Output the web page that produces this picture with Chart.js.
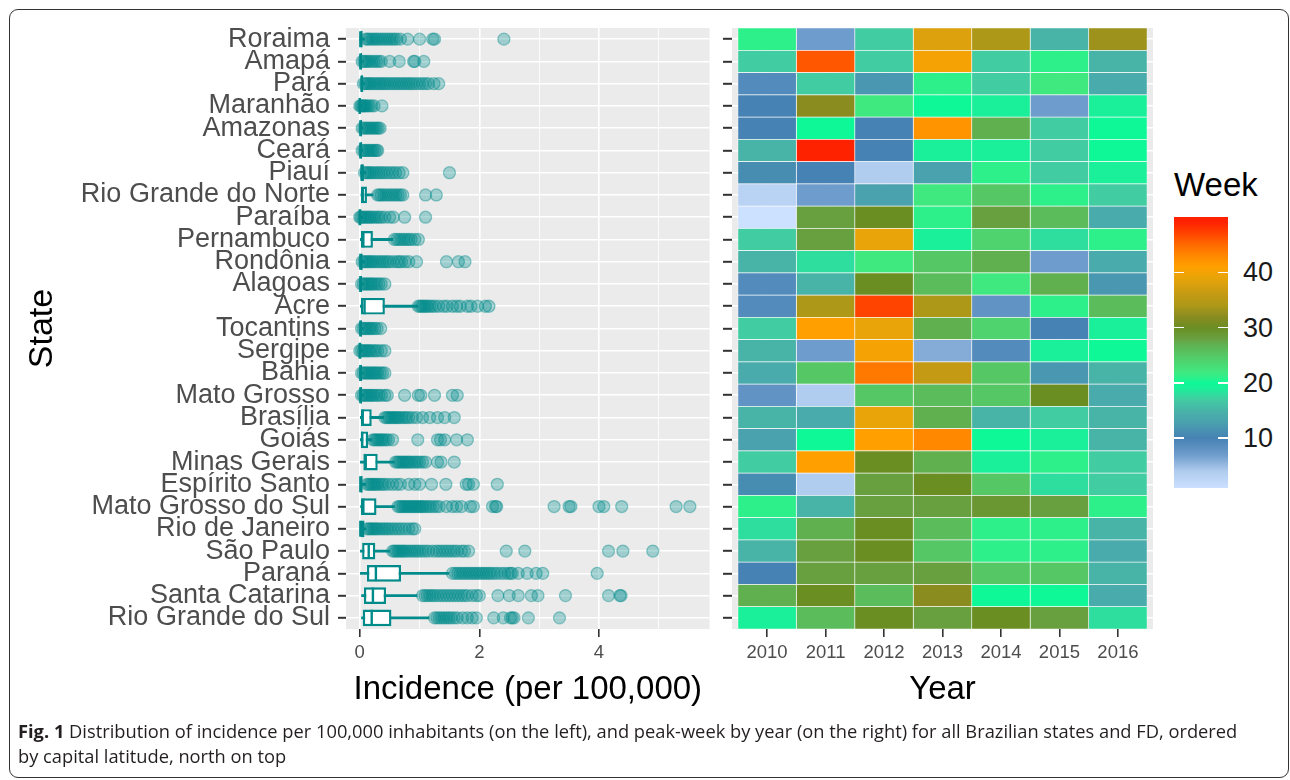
<!DOCTYPE html>
<html>
<head>
<meta charset="utf-8">
<script src="https://cdn.jsdelivr.net/npm/chart.js@4.4.1/dist/chart.umd.min.js"></script>
<style>
  body { margin: 0; background: #fff; width: 1290px; height: 780px; overflow: hidden; position: relative;
         font-family: "Liberation Sans", Arial, sans-serif; }
  #frame { position: absolute; left: 9px; top: 9px; width: 1280px; height: 769px; border: 1.5px solid #333;
           border-radius: 9px; box-sizing: border-box; }
  #left { position: absolute; left: 0; top: 0; width: 720px; height: 720px; }
  #right { position: absolute; left: 700px; top: 0; width: 470px; height: 720px; }
  #week-title { position: absolute; left: 1174px; top: 166px; font-size: 33px; line-height: 38px; color: #000; }
  #week-bar { position: absolute; left: 1174px; top: 217px; width: 54px; height: 271px; }
  .wk-tick { position: absolute; height: 1.5px; width: 10px; background: #fff; }
  .wk-label { position: absolute; left: 1243px; font-size: 27px; line-height: 30px; color: #1a1a1a; }
  #caption { position: absolute; left: 18px; top: 718px; font-family: "Open Sans", sans-serif; font-size: 18.3px;
             line-height: 25px; color: #231f20; white-space: nowrap; }
</style>
</head>
<body>
<div id="frame"></div>
<div id="left"><canvas id="incidenceChart"></canvas></div>
<div id="right"><canvas id="weekChart"></canvas></div>
<div id="week-title">Week</div>
<div id="week-bar"></div>
<div id="caption"><b>Fig. 1</b> Distribution of incidence per 100,000 inhabitants (on the left), and peak-week by year (on the right) for all Brazilian states and FD, ordered<br>by capital latitude, north on top</div>

<script>
const states = ['Roraima', 'Amapá', 'Pará', 'Maranhão', 'Amazonas', 'Ceará', 'Piauí', 'Rio Grande do Norte',
  'Paraíba', 'Pernambuco', 'Rondônia', 'Alagoas', 'Acre', 'Tocantins', 'Sergipe', 'Bahia', 'Mato Grosso',
  'Brasília', 'Goiás', 'Minas Gerais', 'Espírito Santo', 'Mato Grosso do Sul', 'Rio de Janeiro', 'São Paulo',
  'Paraná', 'Santa Catarina', 'Rio Grande do Sul'];
const years = ['2010', '2011', '2012', '2013', '2014', '2015', '2016'];

// boxplot summary per state (incidence per 100,000)
const whiskerLo = [0, 0, 0.02, 0, 0, 0, 0.01, 0.02, 0, 0.01, 0, 0, 0.01, 0, 0, 0, 0, 0.01, 0.01, 0.01, 0, 0, 0, 0.01, 0.01, 0.03, 0.03];
const q1 =        [0, 0, 0.02, 0, 0, 0, 0.02, 0.02, 0, 0.02, 0, 0, 0.02, 0, 0, 0, 0, 0.02, 0.02, 0.06, 0, 0.02, 0, 0.04, 0.12, 0.07, 0.05];
const median =    [0.01, 0.01, 0.03, 0, 0.01, 0.01, 0.03, 0.05, 0, 0.06, 0.01, 0.01, 0.08, 0.01, 0, 0.01, 0.01, 0.05, 0.04, 0.1, 0.01, 0.06, 0.01, 0.15, 0.27, 0.22, 0.2];
const q3 =        [0.05, 0.04, 0.06, 0.02, 0.04, 0.04, 0.07, 0.12, 0.03, 0.22, 0.05, 0.04, 0.42, 0.04, 0.03, 0.04, 0.04, 0.2, 0.14, 0.3, 0.05, 0.28, 0.08, 0.26, 0.69, 0.44, 0.53];
const whiskerHi = [0.08, 0.06, 0.08, 0.04, 0.05, 0.05, 0.1, 0.22, 0.05, 0.55, 0.08, 0.06, 0.97, 0.06, 0.05, 0.06, 0.06, 0.4, 0.2, 0.58, 0.1, 0.58, 0.1, 0.5, 1.49, 0.96, 1.16];

// outlying weeks, one list per state
const outliers = [
  [0.1, 0.13, 0.16, 0.2, 0.23, 0.27, 0.3, 0.34, 0.38, 0.42, 0.46, 0.5, 0.54, 0.58, 0.62, 0.68, 0.8, 1.0, 1.22, 1.25, 2.41],
  [0.04, 0.07, 0.1, 0.13, 0.16, 0.2, 0.24, 0.28, 0.32, 0.36, 0.5, 0.66, 0.9, 0.92, 1.07],
  [0.06, 0.09, 0.12, 0.15, 0.18, 0.21, 0.25, 0.28, 0.32, 0.35, 0.39, 0.42, 0.46, 0.5, 0.54, 0.58, 0.62, 0.66, 0.7, 0.74, 0.78, 0.82, 0.86, 0.9, 0.95, 1.0, 1.05, 1.1, 1.15, 1.24, 1.32],
  [0, 0.02, 0.04, 0.06, 0.08, 0.1, 0.13, 0.16, 0.2, 0.24, 0.37],
  [0.04, 0.07, 0.1, 0.13, 0.16, 0.19, 0.22, 0.25, 0.28, 0.31, 0.34],
  [0.04, 0.07, 0.1, 0.13, 0.16, 0.19, 0.22, 0.25, 0.28, 0.3],
  [0.08, 0.11, 0.14, 0.17, 0.2, 0.24, 0.28, 0.32, 0.36, 0.4, 0.45, 0.5, 0.55, 0.6, 0.66, 0.72, 1.5],
  [0.3, 0.33, 0.36, 0.4, 0.44, 0.48, 0.52, 0.56, 0.6, 0.64, 0.68, 0.72, 1.1, 1.28],
  [0, 0.02, 0.05, 0.08, 0.11, 0.14, 0.17, 0.2, 0.24, 0.28, 0.32, 0.36, 0.42, 0.5, 0.56, 0.75, 1.1],
  [0.58, 0.62, 0.66, 0.7, 0.74, 0.78, 0.82, 0.86, 0.92, 0.98],
  [0.04, 0.07, 0.1, 0.13, 0.16, 0.19, 0.22, 0.26, 0.3, 0.34, 0.38, 0.42, 0.46, 0.5, 0.56, 0.62, 0.66, 0.7, 0.76, 0.82, 0.95, 1.45, 1.65, 1.76],
  [0.03, 0.06, 0.09, 0.12, 0.15, 0.18, 0.21, 0.24, 0.28, 0.32, 0.36, 0.42],
  [0.98, 1.01, 1.04, 1.07, 1.1, 1.13, 1.17, 1.21, 1.26, 1.32, 1.4, 1.46, 1.55, 1.62, 1.68, 1.8, 1.86, 1.97, 2.1, 2.16],
  [0.03, 0.06, 0.09, 0.12, 0.15, 0.18, 0.21, 0.25, 0.29, 0.35],
  [0, 0.03, 0.06, 0.09, 0.12, 0.15, 0.18, 0.22, 0.26, 0.3, 0.36, 0.42],
  [0.03, 0.06, 0.09, 0.12, 0.15, 0.18, 0.21, 0.24, 0.27, 0.3, 0.34, 0.38, 0.42],
  [0.03, 0.06, 0.09, 0.12, 0.15, 0.18, 0.21, 0.24, 0.28, 0.32, 0.36, 0.42, 0.46, 0.75, 0.98, 1.02, 1.25, 1.55, 1.63],
  [0.42, 0.45, 0.48, 0.51, 0.54, 0.57, 0.6, 0.63, 0.66, 0.7, 0.74, 0.78, 0.82, 0.88, 0.95, 1.05, 1.17, 1.3, 1.42, 1.58],
  [0.22, 0.25, 0.28, 0.31, 0.34, 0.37, 0.4, 0.44, 0.48, 0.55, 0.97, 1.3, 1.35, 1.42, 1.62, 1.8],
  [0.6, 0.63, 0.66, 0.69, 0.72, 0.75, 0.78, 0.81, 0.84, 0.88, 0.92, 0.96, 1.0, 1.05, 1.1, 1.3, 1.36, 1.58],
  [0.12, 0.15, 0.18, 0.21, 0.24, 0.27, 0.3, 0.34, 0.38, 0.42, 0.48, 0.55, 0.62, 0.68, 0.82, 0.92, 1.0, 1.2, 1.44, 1.78, 1.82, 1.9, 2.3],
  [0.64, 0.67, 0.7, 0.73, 0.76, 0.79, 0.82, 0.85, 0.88, 0.91, 0.94, 0.97, 1.0, 1.03, 1.06, 1.1, 1.14, 1.18, 1.23, 1.28, 1.33, 1.45, 1.55, 1.62, 1.7, 1.85, 1.9, 2.22, 2.27, 2.29, 3.25, 3.5, 3.53, 4.0, 4.08, 4.38, 5.29, 5.52],
  [0.12, 0.15, 0.18, 0.21, 0.24, 0.27, 0.3, 0.34, 0.38, 0.42, 0.46, 0.5, 0.55, 0.6, 0.65, 0.7, 0.76, 0.82, 0.88, 0.92],
  [0.55, 0.58, 0.61, 0.64, 0.67, 0.7, 0.73, 0.76, 0.8, 0.84, 0.88, 0.92, 0.96, 1.0, 1.05, 1.1, 1.15, 1.22, 1.28, 1.33, 1.38, 1.43, 1.48, 1.53, 1.58, 1.63, 1.7, 1.75, 1.82, 2.45, 2.76, 4.16, 4.4, 4.9],
  [1.55, 1.6, 1.64, 1.68, 1.72, 1.76, 1.8, 1.84, 1.88, 1.92, 1.96, 2.0, 2.04, 2.08, 2.12, 2.16, 2.2, 2.25, 2.3, 2.36, 2.42, 2.48, 2.52, 2.55, 2.65, 2.8, 2.95, 3.06, 3.97],
  [1.05, 1.09, 1.13, 1.17, 1.21, 1.25, 1.3, 1.35, 1.4, 1.45, 1.5, 1.55, 1.6, 1.65, 1.7, 1.75, 1.8, 1.88, 1.95, 2.0, 2.31, 2.5, 2.65, 2.87, 2.98, 3.44, 4.16, 4.35, 4.37],
  [1.25, 1.29, 1.33, 1.37, 1.41, 1.45, 1.49, 1.53, 1.58, 1.63, 1.72, 1.8, 1.88, 1.95, 2.24, 2.4, 2.52, 2.55, 2.58, 2.82, 3.34]
];
const incidenceTicks = [0, 1, 2, 3, 4, 5];

// peak week per state, one list per year
const week2010 = [21, 17, 9, 10, 10, 15, 11, 3, 1, 17, 15, 9, 9, 17, 15, 14, 8, 15, 13, 17, 11, 21, 18, 15, 10, 27, 19];
const week2011 = [7, 46, 17, 32, 20, 49, 10, 7, 28, 28, 18, 15, 34, 41, 7, 25, 4, 14, 20, 41, 4, 15, 27, 28, 28, 30, 26];
const week2012 = [17, 17, 12, 22, 10, 10, 4, 13, 30, 39, 22, 30, 47, 39, 40, 44, 25, 39, 41, 30, 28, 28, 30, 30, 28, 26, 30];
const week2013 = [38, 40, 21, 20, 42, 19, 13, 22, 21, 19, 25, 26, 34, 27, 6, 36, 26, 27, 43, 27, 30, 28, 26, 25, 28, 32, 28];
const week2014 = [34, 17, 17, 19, 27, 19, 21, 25, 28, 24, 27, 22, 8, 24, 9, 25, 25, 15, 20, 19, 25, 29, 21, 21, 25, 20, 30];
const week2015 = [15, 21, 22, 7, 17, 17, 17, 21, 26, 18, 7, 27, 21, 10, 19, 12, 30, 17, 19, 21, 18, 28, 21, 21, 25, 20, 28];
const week2016 = [33, 15, 14, 19, 20, 20, 19, 17, 14, 21, 14, 12, 26, 19, 20, 15, 14, 15, 15, 17, 17, 21, 15, 14, 15, 14, 18];
const weeks = [week2010, week2011, week2012, week2013, week2014, week2015, week2016];
const weekTicks = [10, 20, 30, 40];

// colour scale for the week fill
const weekMin = 1, weekMax = 50;
const stopWeeks = [1, 4, 7, 10, 13, 15, 17, 19, 20, 21, 22, 25, 27, 28, 30, 32, 34, 36, 39, 41, 43, 45, 47, 49, 50];
const stopColors = ['#cce0ff', '#b0ccee', '#6e9ccc', '#4682b4', '#4aa2ae', '#48b4a8', '#42cca2', '#1af09a', '#0ef898',
  '#2ef08a', '#40e880', '#55c865', '#60b050', '#68a040', '#6b8e23', '#8a8c20', '#ae9818', '#c49a14', '#e8a408',
  '#ffa000', '#ff8800', '#ff6a00', '#ff4400', '#ff2200', '#ff2000'];

const teal = '#008b8b';
Chart.defaults.font.family = '"Liberation Sans", Arial, sans-serif';

function hexRgb(h) {
  return [1, 3, 5].map(k => parseInt(h.slice(k, k + 2), 16));
}

function weekColor(v) {
  let i = 0;
  while (i < stopWeeks.length - 2 && v > stopWeeks[i + 1]) i++;
  const t = Math.max(0, Math.min(1, (v - stopWeeks[i]) / (stopWeeks[i + 1] - stopWeeks[i])));
  const a = hexRgb(stopColors[i]), b = hexRgb(stopColors[i + 1]);
  return 'rgb(' + a.map((c, k) => Math.round(c + (b[k] - c) * t)).join(',') + ')';
}

// grey ggplot panel behind the grid
const panelBg = {
  id: 'panelBg',
  beforeDraw(chart) {
    const { ctx, chartArea: a } = chart;
    ctx.save();
    ctx.fillStyle = '#ebebeb';
    ctx.fillRect(a.left, a.top, a.right - a.left, a.bottom - a.top);
    ctx.restore();
  }
};

function drawIncidenceChart() {
  const points = [];
  outliers.forEach((list, i) => list.forEach(v => points.push({ x: v, y: states[i] })));

  new Chart(document.getElementById('incidenceChart'), {
    type: 'bar',
    data: {
      labels: states,
      datasets: [
        {
          type: 'scatter', data: points, order: 1,
          pointRadius: 6, pointBorderWidth: 1.3,
          backgroundColor: 'rgba(0,139,139,0.32)', borderColor: 'rgba(0,139,139,0.42)'
        },
        {
          type: 'scatter', data: states.map((s, i) => ({ x: median[i], y: s })), order: 2,
          pointStyle: 'line', rotation: 90, pointRadius: 8, pointBorderWidth: 2.4, borderColor: teal
        },
        {
          data: states.map((s, i) => [q1[i], q3[i]]), order: 3, grouped: false,
          barPercentage: 0.75, categoryPercentage: 1,
          backgroundColor: '#fff', borderColor: teal, borderWidth: 2.4, borderSkipped: false
        },
        {
          data: states.map((s, i) => [whiskerLo[i], whiskerHi[i]]), order: 4, grouped: false,
          barThickness: 2.2, backgroundColor: teal, borderWidth: 0
        }
      ]
    },
    options: {
      indexAxis: 'y',
      responsive: true, maintainAspectRatio: false, animation: false, events: [],
      layout: { padding: { left: 20, top: 28, right: 6, bottom: 0 } },
      plugins: { legend: { display: false }, tooltip: { enabled: false } },
      scales: {
        x: {
          type: 'linear', min: -0.23, max: 5.85, offset: false,
          afterBuildTicks: s => { s.ticks = incidenceTicks.map(v => ({ value: v })); },
          afterFit: s => { s.height = 91; },
          border: { display: false },
          grid: {
            offset: false,
            color: '#fff',
            lineWidth: c => (c.tick && c.tick.value % 2 === 0 ? 1.6 : 0.8),
            tickColor: c => (c.tick && c.tick.value % 2 === 0 ? '#333' : 'rgba(0,0,0,0)'),
            tickLength: 8, tickWidth: 1.6
          },
          ticks: { callback: v => (v % 2 === 0 ? String(v) : ''), color: '#4d4d4d', font: { size: 18.5 }, padding: 5, maxRotation: 0 },
          title: { display: true, text: 'Incidence (per 100,000)', color: '#000', font: { size: 33 }, padding: { top: 0, bottom: 10 } }
        },
        y: {
          type: 'category', offset: true,
          afterFit: s => { s.width = 326; },
          border: { display: false },
          grid: { offset: false, color: '#fff', lineWidth: 1.6, tickColor: '#333', tickLength: 8, tickWidth: 2 },
          ticks: { autoSkip: false, color: '#4d4d4d', font: { size: 27 }, padding: 8 },
          title: { display: true, text: 'State', color: '#000', font: { size: 34 }, padding: { top: 2, bottom: 0 } }
        }
      }
    },
    plugins: [panelBg]
  });
}

function drawWeekChart() {
  new Chart(document.getElementById('weekChart'), {
    type: 'bar',
    data: {
      labels: states,
      datasets: years.map((yr, j) => ({
        label: yr,
        data: weeks[j].map(() => 1),
        backgroundColor: weeks[j].map(weekColor),
        borderColor: 'rgba(255,255,255,0.8)', borderWidth: 0.7, borderSkipped: false,
        barPercentage: 1, categoryPercentage: 1
      }))
    },
    options: {
      indexAxis: 'y',
      responsive: true, maintainAspectRatio: false, animation: false, events: [],
      layout: { padding: { left: 0, top: 28, right: 17, bottom: 0 } },
      plugins: { legend: { display: false }, tooltip: { enabled: false } },
      scales: {
        x: {
          type: 'linear', stacked: true, min: -0.1, max: 7.1, offset: false,
          afterBuildTicks: s => { s.ticks = years.map((yr, j) => ({ value: j + 0.5 })); },
          afterFit: s => { s.height = 91; },
          border: { display: false },
          grid: { offset: false, color: '#fff', lineWidth: 1.6, tickColor: '#333', tickLength: 8, tickWidth: 1.6 },
          ticks: { callback: (v, i) => years[i], color: '#4d4d4d', font: { size: 18.5 }, padding: 5, maxRotation: 0 },
          title: { display: true, text: 'Year', color: '#000', font: { size: 33 }, padding: { top: 0, bottom: 10 } }
        },
        y: {
          type: 'category', stacked: true, offset: true,
          afterFit: s => { s.width = 32; },
          border: { display: false },
          grid: { offset: false, color: '#fff', lineWidth: 1.6, tickColor: '#333', tickLength: 9, tickWidth: 2 },
          ticks: { autoSkip: false, callback: () => '' }
        }
      }
    },
    plugins: [panelBg]
  });
}

function drawWeekLegend() {
  const bar = document.getElementById('week-bar');
  const stops = stopWeeks.map((w, i) =>
    stopColors[i] + ' ' + ((w - weekMin) / (weekMax - weekMin) * 100).toFixed(2) + '%');
  bar.style.background = 'linear-gradient(to top, ' + stops.join(', ') + ')';
  const top = 217, h = 271;
  weekTicks.forEach(w => {
    const y = top + h * (1 - (w - weekMin) / (weekMax - weekMin));
    [1174, 1218].forEach(x => {
      const t = document.createElement('div');
      t.className = 'wk-tick';
      t.style.left = x + 'px';
      t.style.top = (y - 0.75) + 'px';
      document.body.appendChild(t);
    });
    const lab = document.createElement('div');
    lab.className = 'wk-label';
    lab.textContent = w;
    lab.style.top = (y - 15) + 'px';
    document.body.appendChild(lab);
  });
}

drawIncidenceChart();
drawWeekChart();
drawWeekLegend();
</script>
</body>
</html>
